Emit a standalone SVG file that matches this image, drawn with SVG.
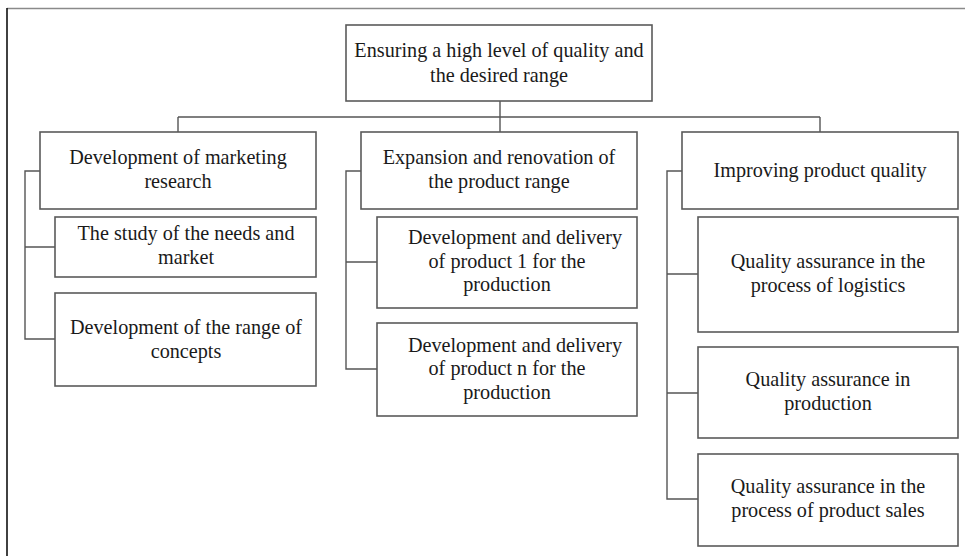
<svg xmlns="http://www.w3.org/2000/svg" width="965" height="556" viewBox="0 0 965 556">
<style>
.box{fill:#fff;stroke:#5a5a5a;stroke-width:1.6}
.t{font-family:"Liberation Serif","Times New Roman",serif;font-size:20.2px;fill:#1a1a1a;text-anchor:middle}
.c{fill:none;stroke:#555;stroke-width:1.4}
</style>
<rect width="965" height="556" fill="#fff"/>
<g id="frame">
<line x1="7" y1="8.5" x2="965" y2="8.5" stroke="#8a8a8a" stroke-width="1.6"/>
<line x1="7" y1="8" x2="7" y2="556" stroke="#111" stroke-width="1.6"/>
</g>
<g id="connectors">
<path class="c" d="M500 101V117M178 117H820M178 117V132M500 117V132M820 117V132"/>
<path class="c" d="M40 171H25V339H55M25 247H55"/>
<path class="c" d="M361 171H346V369H377M346 262H377"/>
<path class="c" d="M682 171H667V499H698M667 274H698M667 393H698"/>
</g>
<g id="root">
<rect class="box" x="346" y="25" width="306" height="76"/>
<text class="t" x="499" y="57">Ensuring a high level of quality and</text>
<text class="t" x="499" y="82">the desired range</text>
</g>
<g id="marketing">
<rect class="box" x="40" y="132" width="276" height="77"/>
<text class="t" x="178" y="164">Development of marketing</text>
<text class="t" x="178" y="188">research</text>
</g>
<g id="needs">
<rect class="box" x="55" y="217" width="261" height="60"/>
<text class="t" x="186" y="240">The study of the needs and</text>
<text class="t" x="186" y="264">market</text>
</g>
<g id="concepts">
<rect class="box" x="55" y="293" width="261" height="93"/>
<text class="t" x="186" y="334">Development of the range of</text>
<text class="t" x="186" y="358">concepts</text>
</g>
<g id="expansion">
<rect class="box" x="361" y="132" width="276" height="77"/>
<text class="t" x="499" y="164">Expansion and renovation of</text>
<text class="t" x="499" y="188">the product range</text>
</g>
<g id="product1">
<rect class="box" x="377" y="217" width="260" height="91"/>
<text class="t" x="515" y="244">Development and delivery</text>
<text class="t" x="507" y="268">of product 1 for the</text>
<text class="t" x="507" y="291">production</text>
</g>
<g id="productn">
<rect class="box" x="377" y="323" width="260" height="93"/>
<text class="t" x="515" y="352">Development and delivery</text>
<text class="t" x="507" y="375">of product n for the</text>
<text class="t" x="507" y="399">production</text>
</g>
<g id="quality">
<rect class="box" x="682" y="132" width="276" height="77"/>
<text class="t" x="820" y="177">Improving product quality</text>
</g>
<g id="logistics">
<rect class="box" x="698" y="217" width="260" height="115"/>
<text class="t" x="828" y="268">Quality assurance in the</text>
<text class="t" x="828" y="292">process of logistics</text>
</g>
<g id="production">
<rect class="box" x="698" y="347" width="260" height="91"/>
<text class="t" x="828" y="386">Quality assurance in</text>
<text class="t" x="828" y="410">production</text>
</g>
<g id="sales">
<rect class="box" x="698" y="454" width="260" height="92"/>
<text class="t" x="828" y="493">Quality assurance in the</text>
<text class="t" x="828" y="517">process of product sales</text>
</g>
</svg>
